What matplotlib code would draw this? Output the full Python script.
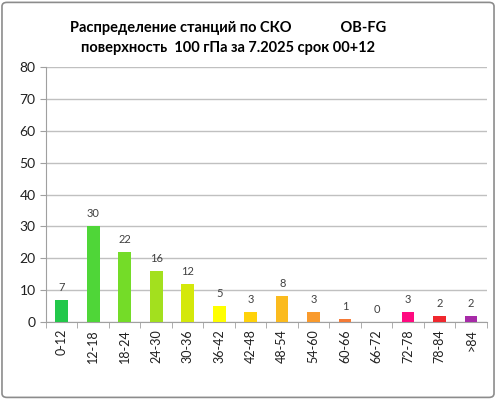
import matplotlib
matplotlib.use("Agg")
import matplotlib.pyplot as plt
import numpy as np
from matplotlib.patches import FancyBboxPatch

categories = ["0-12", "12-18", "18-24", "24-30", "30-36", "36-42", "42-48",
              "48-54", "54-60", "60-66", "66-72", "72-78", "78-84", ">84"]
counts = [7, 30, 22, 16, 12, 5, 3, 8, 3, 1, 0, 3, 2, 2]
colors = ["#22c84a", "#4fd638", "#74dc28", "#a3e01e", "#d4e80a", "#ffff00",
          "#ffd20a", "#fbbb1e", "#f99a2c", "#f57a36", "#f57a36", "#ff0a80",
          "#f0282e", "#a72aa8"]
title_lines = ["Распределение станций по СКО              OB-FG",
               "поверхность  100 гПа за 7.2025 срок 00+12"]

plt.rcParams["font.family"] = ["Lato", "DejaVu Sans"]

fig = plt.figure(figsize=(4.96, 3.99), dpi=100)
border = FancyBboxPatch((0.004, 0.004), 0.992, 0.99, boxstyle="round,pad=0,rounding_size=0.01",
                        transform=fig.transFigure, facecolor="none",
                        edgecolor="#8c8c8c", linewidth=1.2)
fig.patches.append(border)

ax = fig.add_axes([0.0927, 0.193, 0.889, 0.639])
x = np.arange(len(categories))
ax.bar(x, counts, width=0.4, color=colors, zorder=3)
for xi, v in zip(x, counts):
    ax.text(xi, v + 2.2, str(v), ha="center", va="bottom", fontsize=8,
            color="#404040")

ax.set_xlim(-0.5, len(categories) - 0.5)
ax.set_ylim(0, 80)
ax.set_yticks(range(0, 81, 10))
ax.yaxis.grid(True, color="#c0c0c0", linewidth=1.0, zorder=0)
ax.set_xticks(x)
ax.set_xticklabels(categories, rotation=90, fontsize=9, color="#202020")
ax.tick_params(axis="x", length=0, pad=5)
ax.set_xticks(np.arange(-0.5, len(categories), 1.0), minor=True)
ax.tick_params(axis="x", which="minor", length=4, color="#a0a0a0")
ax.tick_params(axis="y", length=4, color="#a0a0a0", labelsize=10, labelcolor="#202020")
for s in ["top", "right"]:
    ax.spines[s].set_visible(False)
ax.spines["left"].set_color("#a0a0a0")
ax.spines["bottom"].set_color("#a0a0a0")
ax.set_facecolor("none")

fig.text(0.46, 0.93, title_lines[0], ha="center", va="center",
         fontsize=10.5, fontweight="bold", color="#000000")
fig.text(0.46, 0.88, title_lines[1], ha="center", va="center",
         fontsize=10.5, fontweight="bold", color="#000000")

fig.savefig("out.png", dpi=100)
